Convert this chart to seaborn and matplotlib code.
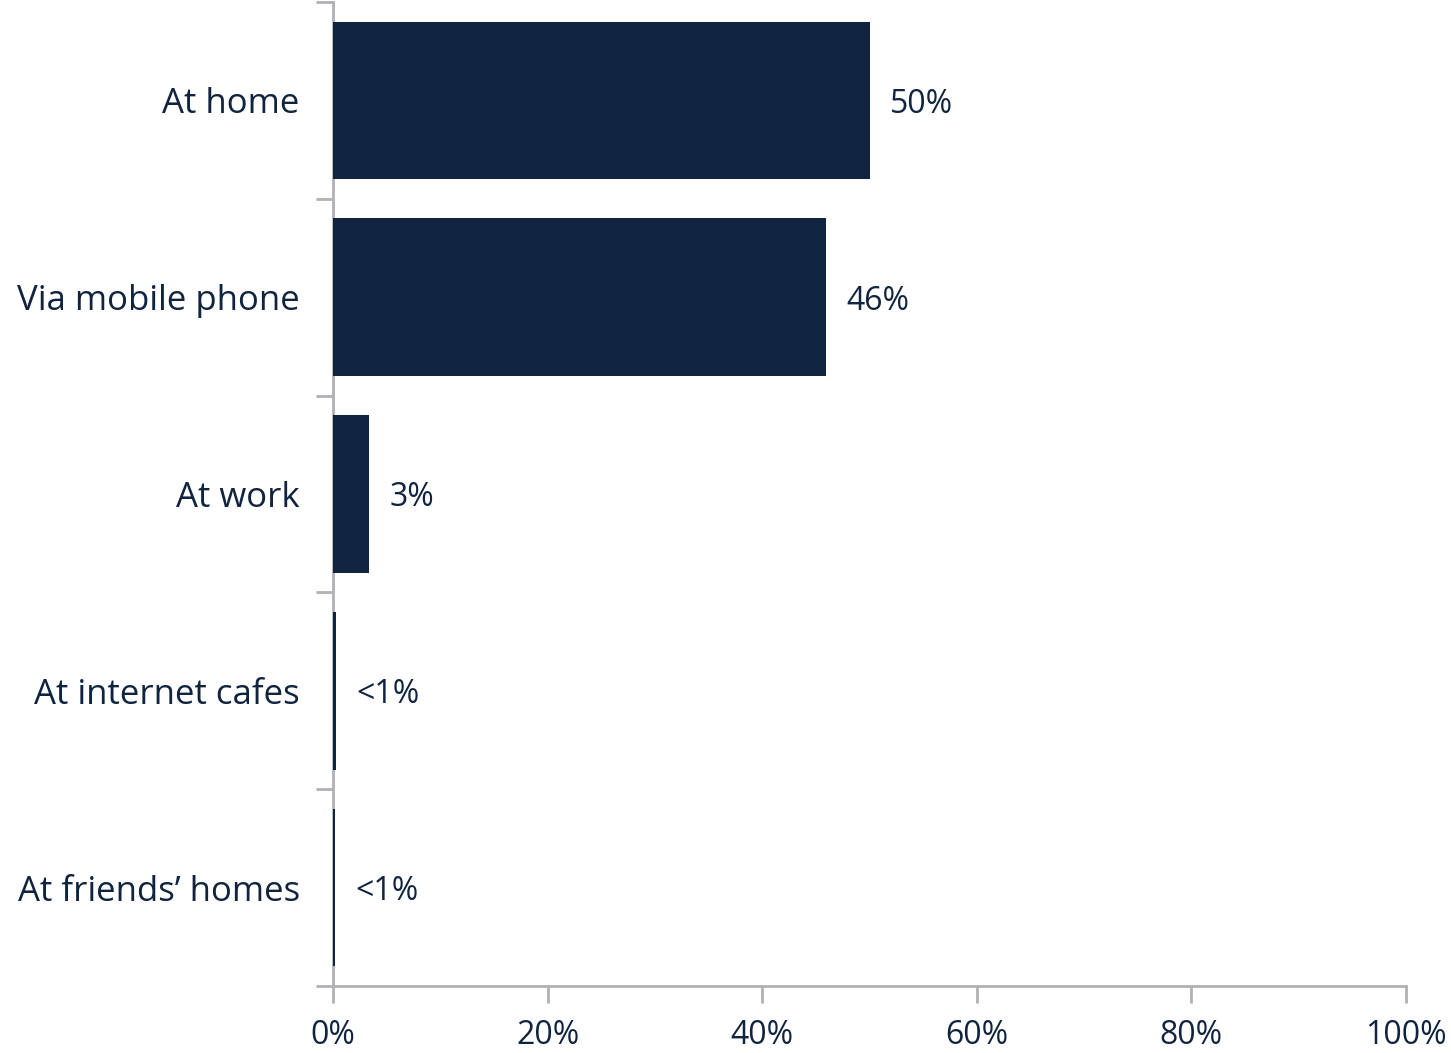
import numpy as np
import pandas as pd
import seaborn as sns
import matplotlib.pyplot as plt
from matplotlib.ticker import FixedLocator

# Данные
places = ['At home', 'Via mobile phone', 'At work', 'At internet cafes', "At friends\u2019 homes"]
shares = [50.0, 45.9, 3.4, 0.3, 0.15]
labels = ['50%', '46%', '3%', '<1%', '<1%']
x_ticks = [0, 20, 40, 60, 80, 100]

navy = '#10243f'
grey = '#b0b0b5'

sns.set_theme(style='white')
plt.rcParams['font.family'] = ['Open Sans', 'DejaVu Sans']

df = pd.DataFrame({'place': places, 'share': shares})

fig = plt.figure(figsize=(14.51, 10.53), dpi=100)
ax = fig.add_axes([0.2295, 0.0636, 0.7395, 0.9345])

sns.barplot(data=df, x='share', y='place', color=navy, width=0.8,
            saturation=1, ax=ax, edgecolor='none', zorder=3)

# Подписи значений
for i, (v, lab) in enumerate(zip(shares, labels)):
    ax.text(v + 1.9, i + 0.02, lab, va='center', ha='left', fontsize=23, color=navy)

ax.set_xlim(0, 100)
ax.set_ylim(4.5, -0.5)
ax.set_xticks(x_ticks)
ax.set_xticklabels([f'{t}%' for t in x_ticks], fontsize=23, color=navy)
ax.set_yticks(range(len(places)))
ax.set_yticklabels(places, fontsize=25, color=navy)
ax.yaxis.set_minor_locator(FixedLocator(np.arange(-0.5, len(places), 1)))
ax.tick_params(axis='y', which='major', length=0, pad=24)
ax.tick_params(axis='y', which='minor', length=12, width=2, color=grey, left=True)
ax.tick_params(axis='x', which='major', length=12, width=2, color=grey, bottom=True, pad=12)
ax.set_xlabel('')
ax.set_ylabel('')

for side in ['top', 'right']:
    ax.spines[side].set_visible(False)
for side in ['left', 'bottom']:
    ax.spines[side].set_color(grey)
    ax.spines[side].set_linewidth(2)
    ax.spines[side].set_zorder(1)

fig.savefig('out.png', dpi=100)
